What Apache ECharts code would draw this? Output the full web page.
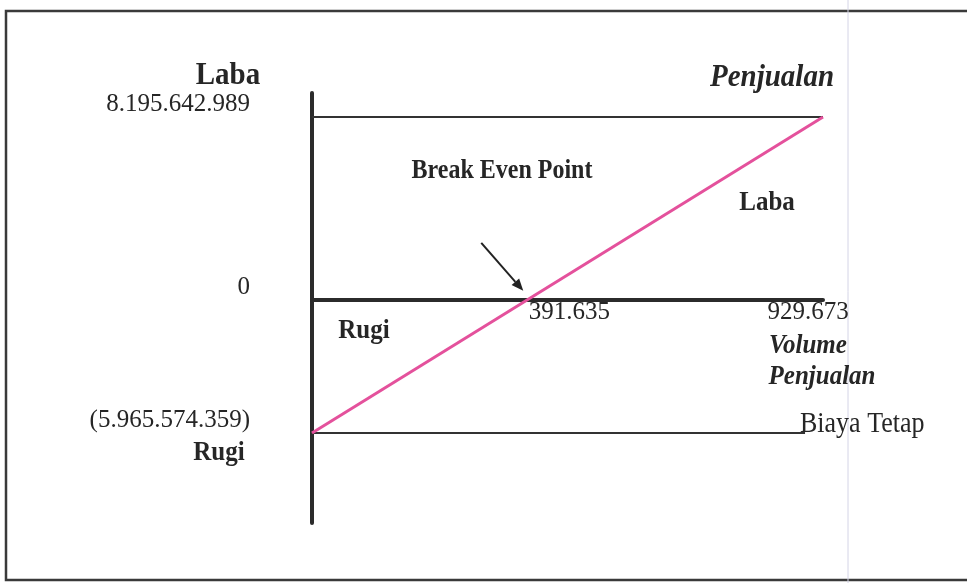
<!DOCTYPE html>
<html>
<head>
<meta charset="utf-8">
<title>Break Even Point</title>
<script src="https://cdn.jsdelivr.net/npm/echarts@6/dist/echarts.min.js"></script>
<style>
  html, body { margin: 0; padding: 0; background: #fff; }
  #chart { width: 967px; height: 583px; }
</style>
</head>
<body>
<div id="chart"></div>
<script>
// data (volume penjualan, laba/rugi)
const volumeTicks = [391635, 929673];
const volumeLabels = ["391.635", "929.673"];
const profitTicks = [8195642989, 0, -5965574359];
const profitLabels = ["8.195.642.989", "0", "(5.965.574.359)"];
const salesLine = [[0, -5965574359], [929673, 8195642989]];
const labaLine = [[0, 8195642989], [929673, 8195642989]];
const biayaTetapLine = [[-29000, -5965574359], [897000, -5965574359]];
const breakEven = [391635, 0];

const serif = "'Liberation Serif', 'Times New Roman', serif";
const ink = "#262626";

const chart = echarts.init(document.getElementById("chart"));

const option = {
  backgroundColor: "#fff",
  animation: false,
  grid: { left: 312, right: 144, top: 93, bottom: 60 },
  xAxis: {
    type: "value",
    min: 0,
    max: 929673,
    splitLine: { show: false },
    axisTick: { show: false },
    axisLabel: { show: false },
    axisLine: { onZero: true, lineStyle: { color: "#2b2b2b", width: 4 } }
  },
  yAxis: {
    type: "value",
    min: -1e10,
    max: 9.27e9,
    splitLine: { show: false },
    axisTick: { show: false },
    axisLine: { onZero: true, lineStyle: { color: "#2b2b2b", width: 4 } },
    axisLabel: {
      customValues: profitTicks,
      margin: 62,
      verticalAlign: "bottom",
      fontFamily: serif,
      fontSize: 25,
      color: ink,
      formatter: function (v) {
        return profitLabels[profitTicks.indexOf(v)];
      }
    }
  },
  series: [
    {
      name: "Laba",
      type: "line",
      data: labaLine,
      symbol: "none",
      lineStyle: { color: "#333", width: 2 }
    },
    {
      name: "Biaya Tetap",
      type: "line",
      data: biayaTetapLine,
      symbol: "none",
      clip: false,
      lineStyle: { color: "#333", width: 2 }
    },
    {
      name: "Penjualan",
      type: "line",
      data: salesLine,
      symbol: "none",
      z: 5,
      lineStyle: { color: "#e4519c", width: 3 }
    },
    {
      // label volume di sumbu nol
      name: "Volume",
      type: "scatter",
      data: volumeTicks.map(v => [v, 0]),
      symbolSize: 0,
      silent: true,
      itemStyle: { opacity: 1 },
      label: {
        show: true,
        position: "bottom",
        distance: 0,
        opacity: 1,
        formatter: function (p) {
          return p.dataIndex === 0 ? "{a|" + volumeLabels[0] + "}" : "{b|" + volumeLabels[1] + "}";
        },
        rich: {
          a: { fontFamily: serif, fontSize: 25, color: ink, padding: [0, 0, 0, 84] },
          b: { fontFamily: serif, fontSize: 25, color: ink, padding: [0, 30, 0, 0] }
        }
      }
    }
  ]
};
chart.setOption(option);

// teks keterangan
function label(id, text, x, y, font, align) {
  return {
    type: "text",
    id: id,
    x: x,
    y: y,
    scaleY: 1.12,
    style: {
      text: text,
      font: font,
      fill: ink,
      align: align || "center",
      verticalAlign: "middle",
      textAlign: align || "center",
      textVerticalAlign: "middle"
    }
  };
}

// panah ke titik BEP
const p = chart.convertToPixel({ gridIndex: 0 }, breakEven);
const tip = [p[0] - 4, p[1] - 9];
const tail = [tip[0] - 42, tip[1] - 48];
const dx = tip[0] - tail[0], dy = tip[1] - tail[1];
const len = Math.sqrt(dx * dx + dy * dy);
const ux = dx / len, uy = dy / len;
const base = [tip[0] - ux * 12, tip[1] - uy * 12];

chart.setOption({
  graphic: [
    {
      type: "rect",
      id: "frame",
      shape: { x: 6, y: 11, width: 975, height: 569 },
      style: { fill: "none", stroke: "#3a3a3a", lineWidth: 2.5 }
    },
    {
      type: "line",
      id: "scan",
      shape: { x1: 848, y1: 0, x2: 848, y2: 583 },
      style: { stroke: "#d4d4e6", lineWidth: 1 }
    },
    label("t1", "Laba", 228, 76, "bold 29px " + serif),
    label("t2", "Penjualan", 772, 78, "italic bold 29px " + serif),
    label("t3", "Break Even Point", 502, 171, "bold 24px " + serif),
    label("t4", "Laba", 767, 203, "bold 25px " + serif),
    label("t5", "Rugi", 364, 331, "bold 25px " + serif),
    label("t6", "Rugi", 219, 453, "bold 25px " + serif),
    label("t7", "Volume", 808, 346, "italic bold 25px " + serif),
    label("t8", "Penjualan", 822, 377, "italic bold 25px " + serif),
    label("t9", "Biaya Tetap", 800, 424, "26px " + serif, "left"),
    {
      type: "line",
      id: "arrow",
      shape: { x1: tail[0], y1: tail[1], x2: base[0], y2: base[1] },
      style: { stroke: "#222", lineWidth: 2 }
    },
    {
      type: "polygon",
      id: "arrowHead",
      shape: {
        points: [
          tip,
          [base[0] - uy * 5, base[1] + ux * 5],
          [base[0] + uy * 5, base[1] - ux * 5]
        ]
      },
      style: { fill: "#222" }
    }
  ]
});

window.addEventListener("resize", () => {
  if (chart) chart.resize();
});
</script>
</body>
</html>
